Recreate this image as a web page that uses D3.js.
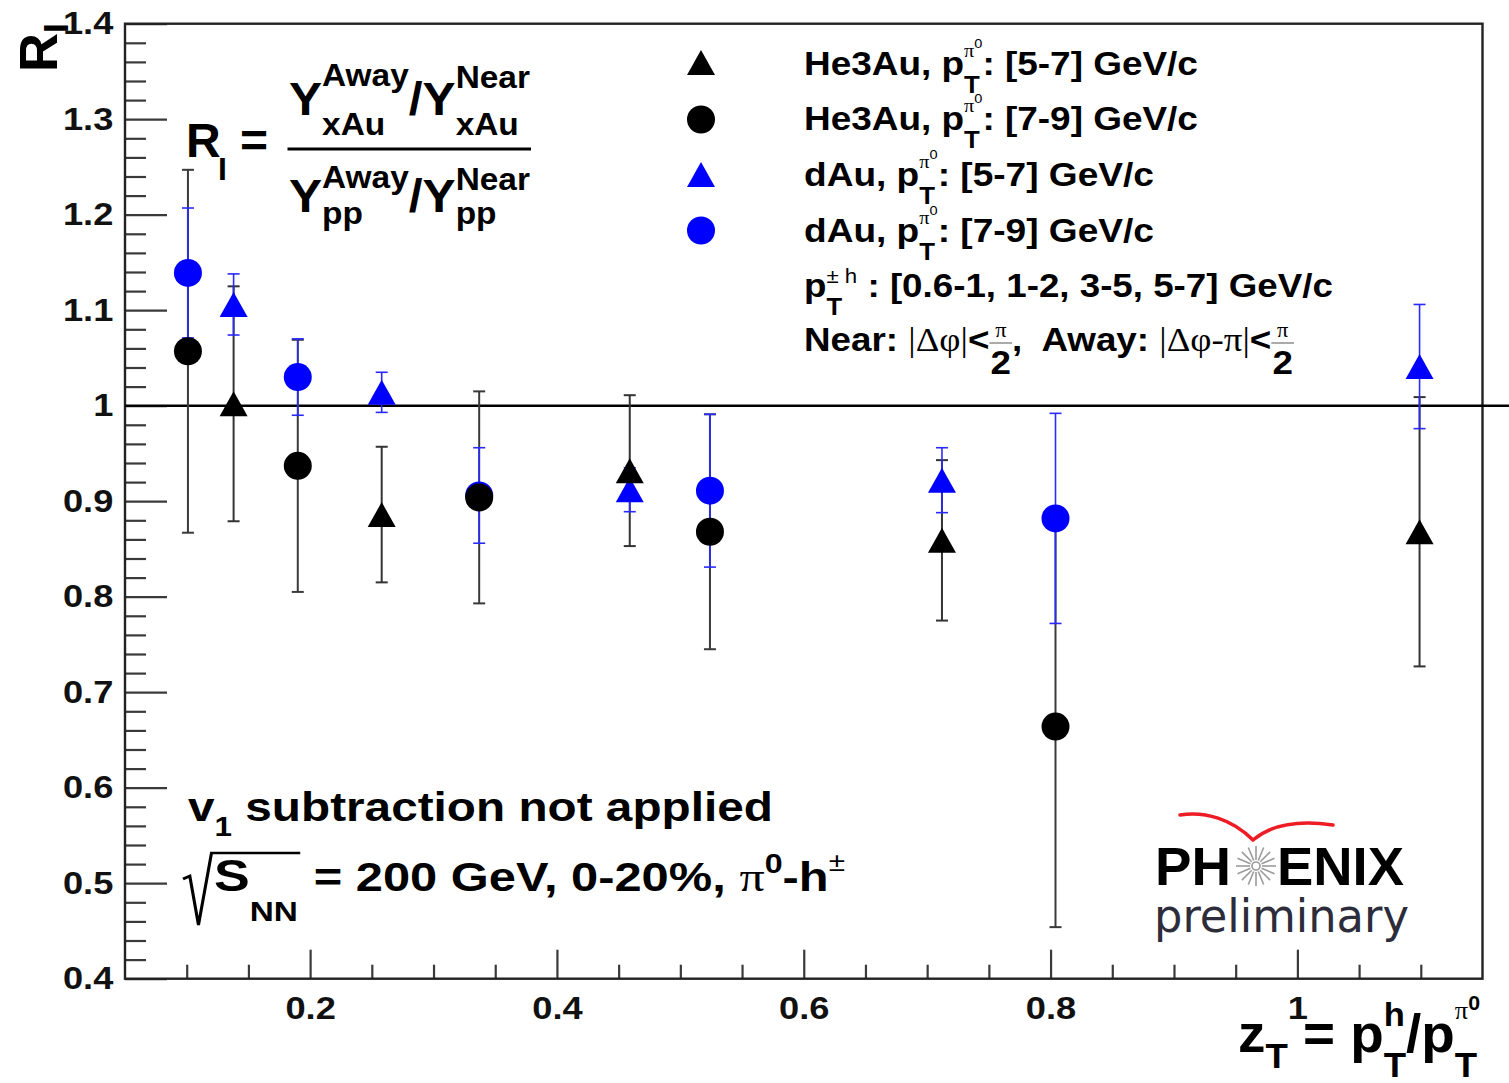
<!DOCTYPE html>
<html>
<head>
<meta charset="utf-8">
<script src="https://cdn.jsdelivr.net/npm/d3@7"></script>
<style>
  html, body { margin: 0; padding: 0; background: #fff; }
  svg { display: block; }
  text { white-space: pre; }
</style>
</head>
<body>
<svg id="chart" width="1509" height="1083"></svg>
<script>
// ---- data: R_I versus z_T ----
const zTriangles = [0.138, 0.258, 0.459, 0.712, 1.099];   // pi0 pT 5-7 GeV/c bins
const zCircles   = [0.101, 0.190, 0.337, 0.524, 0.804];   // pi0 pT 7-9 GeV/c bins

const he3Au57    = [1.002, 0.886, 0.932, 0.859, 0.868];
const he3Au57Err = [0.123, 0.071, 0.079, 0.084, 0.141];
const he3Au79    = [1.057, 0.937, 0.904, 0.868, 0.664];
const he3Au79Err = [0.190, 0.132, 0.111, 0.123, 0.210];
const dAu57      = [1.106, 1.014, 0.912, 0.922, 1.041];
const dAu57Err   = [0.032, 0.021, 0.023, 0.034, 0.065];
const dAu79      = [1.139, 1.030, 0.906, 0.911, 0.882];
const dAu79Err   = [0.068, 0.040, 0.050, 0.080, 0.110];

const yMajorTicks  = [0.4, 0.5, 0.6, 0.7, 0.8, 0.9, 1.0, 1.1, 1.2, 1.3, 1.4];
const yTickLabels  = ["0.4", "0.5", "0.6", "0.7", "0.8", "0.9", "1", "1.1", "1.2", "1.3", "1.4"];
const xMajorTicks  = [0.2, 0.4, 0.6, 0.8, 1.0];
const xTickLabels  = ["0.2", "0.4", "0.6", "0.8", "1"];
const referenceLevel = 1.0;

// ---- series ----
const series = [
  { name: "He3Au 5-7", z: zTriangles, v: he3Au57, e: he3Au57Err, shape: "tri",    color: "#000", bar: "#333", bw: 2.0 },
  { name: "He3Au 7-9", z: zCircles,   v: he3Au79, e: he3Au79Err, shape: "circle", color: "#000", bar: "#3a3a3a", bw: 2.0 },
  { name: "dAu 5-7",   z: zTriangles, v: dAu57,   e: dAu57Err,   shape: "tri",    color: "#0000ff", bar: "#2a2aff", bw: 1.6 },
  { name: "dAu 7-9",   z: zCircles,   v: dAu79,   e: dAu79Err,   shape: "circle", color: "#0000ff", bar: "#2a2aff", bw: 1.6 }
];

const SANS  = "'Liberation Sans', Arial, Helvetica, sans-serif";
const SERIF = "'Liberation Serif', 'DejaVu Serif', serif";

const svg = d3.select("#chart");
const W = 1509, H = 1083;
const plot = { left: 125, right: 1482.5, top: 23.7, bottom: 978.7 };

const x = d3.scaleLinear().domain([0.05, 1.15]).range([plot.left, plot.right]);
const y = d3.scaleLinear().domain([0.4, 1.4]).range([plot.bottom, plot.top]);

// ---- axes (ticks drawn inward, ROOT style) ----
const yMinor = d3.range(0, 51).filter(i => i % 5 !== 0).map(i => 0.4 + i * 0.02);
const xMinor = d3.range(1, 23).filter(i => i % 4 !== 0).map(i => i * 0.05).filter(v => v > 0.06 && v < 1.14);

const tickColor = "#3a3a3a";

const gyMinor = svg.append("g").attr("transform", `translate(${plot.left},0)`)
  .call(d3.axisLeft(y).tickValues(yMinor).tickSize(-21).tickFormat(""));
const gyMajor = svg.append("g").attr("transform", `translate(${plot.left},0)`)
  .call(d3.axisLeft(y).tickValues(yMajorTicks).tickSize(-42).tickPadding(10)
        .tickFormat((d, i) => yTickLabels[i]));
const gxMinor = svg.append("g").attr("transform", `translate(0,${plot.bottom})`)
  .call(d3.axisBottom(x).tickValues(xMinor).tickSize(-14).tickFormat(""));
const gxMajor = svg.append("g").attr("transform", `translate(0,${plot.bottom})`)
  .call(d3.axisBottom(x).tickValues(xMajorTicks).tickSize(-29).tickPadding(18)
        .tickFormat((d, i) => xTickLabels[i]));

[gyMinor, gyMajor, gxMinor, gxMajor].forEach(g => {
  g.select(".domain").remove();
  g.selectAll(".tick line").attr("stroke", tickColor).attr("stroke-width", 2.2);
  g.selectAll(".tick text")
    .attr("font-family", SANS).attr("font-weight", "bold").attr("font-size", 31)
    .attr("fill", "#111");
});
gyMajor.selectAll(".tick text").attr("transform", "scale(1.17,1)");
gxMajor.selectAll(".tick text").attr("transform", "scale(1.17,1)");

// frame
svg.append("rect")
  .attr("x", plot.left).attr("y", plot.top)
  .attr("width", plot.right - plot.left).attr("height", plot.bottom - plot.top)
  .attr("fill", "none").attr("stroke", "#222").attr("stroke-width", 2.4);

// line at R_I = 1, running to the edge of the canvas
svg.append("line")
  .attr("x1", plot.left).attr("x2", W)
  .attr("y1", y(referenceLevel)).attr("y2", y(referenceLevel))
  .attr("stroke", "#000").attr("stroke-width", 2.6);

// ---- markers ----
const R = 14;
function marker(g, shape, cx, cy, color) {
  if (shape === "circle") {
    g.append("circle").attr("cx", cx).attr("cy", cy).attr("r", R).attr("fill", color);
  } else {
    g.append("path")
      .attr("d", `M${cx - R},${cy + 12.5} L${cx + R},${cy + 12.5} L${cx},${cy - 12.5} Z`)
      .attr("fill", color);
  }
}

// error bars first (black then blue), then blue markers, then black markers
const gBars = svg.append("g");
series.forEach(s => {
  s.z.forEach((z, i) => {
    const cx = x(z), y1 = y(s.v[i] + s.e[i]), y0 = y(s.v[i] - s.e[i]);
    const g = gBars.append("g").attr("stroke", s.bar).attr("stroke-width", s.bw);
    g.append("line").attr("x1", cx).attr("x2", cx).attr("y1", y1).attr("y2", y0);
    g.append("line").attr("x1", cx - 6).attr("x2", cx + 6).attr("y1", y1).attr("y2", y1);
    g.append("line").attr("x1", cx - 6).attr("x2", cx + 6).attr("y1", y0).attr("y2", y0);
  });
});
const gMarks = svg.append("g");
[series[2], series[3], series[0], series[1]].forEach(s => {
  s.z.forEach((z, i) => marker(gMarks, s.shape, x(z), y(s.v[i]), s.color));
});

// ---- rich text layout (sub/superscripts, stacked indices, fractions, roots) ----
function layoutRow(g, items, x0, base) {
  let cx = x0;
  for (const it of items) {
    if (it.gap !== undefined) { cx += it.gap; continue; }
    if (it.stack) {
      let w = 0;
      it.stack.forEach(row => { w = Math.max(w, layoutRow(g, row, cx, base) - cx); });
      cx += w; continue;
    }
    if (it.frac) {
      const tmp = g.append("g");
      const wn = layoutRow(tmp, it.frac[0], 0, 0);
      const wd = layoutRow(tmp, it.frac[1], 0, 0);
      tmp.remove();
      const pad = it.pad || 1;
      const w = Math.max(wn, wd) + 2 * pad;
      layoutRow(g, it.frac[0], cx + (w - wn) / 2, base);
      layoutRow(g, it.frac[1], cx + (w - wd) / 2, base);
      g.append("line").attr("x1", cx).attr("x2", cx + w)
        .attr("y1", base + it.bar).attr("y2", base + it.bar)
        .attr("stroke", it.barColor || "#000").attr("stroke-width", it.barWidth || 1.5);
      cx += w; continue;
    }
    if (it.sqrt) {
      const start = cx;
      const end = layoutRow(g, it.sqrt, cx + it.rw, base);
      g.append("path")
        .attr("d", `M${start},${base + it.mid} L${start + it.rw * 0.22},${base + it.mid - 3}` +
                   ` L${start + it.rw * 0.5},${base + it.bot} L${start + it.rw * 0.92},${base + it.top}` +
                   ` L${end + 2},${base + it.top}`)
        .attr("fill", "none").attr("stroke", "#000").attr("stroke-width", 2.6)
        .attr("stroke-linejoin", "miter");
      cx = end + 2; continue;
    }
    const t = g.append("text")
      .attr("x", cx).attr("y", base + (it.dy || 0))
      .attr("xml:space", "preserve")
      .attr("font-family", it.f || SANS)
      .attr("font-size", it.s)
      .attr("font-weight", it.w || "bold")
      .attr("fill", it.fill || "#000")
      .text(it.t);
    cx += t.node().getComputedTextLength() + (it.kern || 0);
  }
  return cx;
}

// places a block with its left end at (x0, baseline) and stretches it to a given width
function richText(parent, items, opt) {
  const outer = parent.append("g").attr("transform", `translate(${opt.x},${opt.y})${opt.rotate ? ` rotate(${opt.rotate})` : ""}`);
  const inner = outer.append("g");
  const w = layoutRow(inner, items, 0, 0);
  const sx = opt.width ? opt.width / w : (opt.sx || 1);
  inner.attr("transform", `scale(${sx},${opt.sy || 1})`);
  return outer;
}

// ---- y title: R_I ----
richText(svg, [{ t: "R", s: 54 }, { t: "I", s: 35, dy: 11 }], { x: 57, y: 72, rotate: -90 });

// ---- x title: z_T = p_T^h / p_T^pi0 ----
richText(svg, [
  { t: "z", s: 54 }, { t: "T", s: 36, dy: 16 },
  { t: " = p", s: 54 },
  { stack: [[{ t: "h", s: 34, dy: -26 }], [{ t: "T", s: 36, dy: 25 }]] },
  { t: "/p", s: 54 },
  { stack: [[{ t: "π", s: 26, f: SERIF, w: "normal", dy: -33 }, { t: "0", s: 21, dy: -42 }],
            [{ t: "T", s: 36, dy: 25 }]] }
], { x: 1238, y: 1052, width: 242 });

// ---- R_I definition ----
const fg = svg.append("g");
richText(fg, [{ t: "R", s: 48 }], { x: 186, y: 157 });
richText(fg, [{ t: "I", s: 32 }], { x: 218, y: 180 });
richText(fg, [{ t: "=", s: 48 }], { x: 240, y: 157 });
fg.append("line").attr("x1", 287.5).attr("x2", 531).attr("y1", 149).attr("y2", 149)
  .attr("stroke", "#000").attr("stroke-width", 3);
richText(fg, [
  { t: "Y", s: 46 },
  { stack: [[{ t: "Away", s: 31, dy: -29 }], [{ t: "xAu", s: 31, dy: 20 }]] },
  { t: "/Y", s: 46 },
  { stack: [[{ t: "Near", s: 31, dy: -27 }], [{ t: "xAu", s: 31, dy: 20 }]] }
], { x: 289, y: 115, width: 241 });
richText(fg, [
  { t: "Y", s: 46 },
  { stack: [[{ t: "Away", s: 31, dy: -24 }], [{ t: "pp", s: 31, dy: 12 }]] },
  { t: "/Y", s: 46 },
  { stack: [[{ t: "Near", s: 31, dy: -22 }], [{ t: "pp", s: 31, dy: 12 }]] }
], { x: 289, y: 212, width: 241 });

// ---- legend ----
const legendRows = [
  { shape: "tri",    color: "#000",    sys: "He3Au", range: "[5-7]", my: 62.5, base: 75,  width: 394 },
  { shape: "circle", color: "#000",    sys: "He3Au", range: "[7-9]", my: 119.5, base: 130, width: 394 },
  { shape: "tri",    color: "#0000ff", sys: "dAu",   range: "[5-7]", my: 174.5, base: 186, width: 350 },
  { shape: "circle", color: "#0000ff", sys: "dAu",   range: "[7-9]", my: 230.5, base: 242, width: 350 }
];
const lg = svg.append("g");
legendRows.forEach(r => {
  marker(lg, r.shape, 701, r.my, r.color);
  richText(lg, [
    { t: r.sys + ", p", s: 33 },
    { stack: [[{ t: "T", s: 23, dy: 18 }],
              [{ t: "π", s: 18, f: SERIF, w: "normal", dy: -18 }, { t: "0", s: 13, w: "normal", dy: -27 }]] },
    { t: ": " + r.range + " GeV/c", s: 33 }
  ], { x: 804, y: r.base, width: r.width });
});
richText(lg, [
  { t: "p", s: 33 },
  { stack: [[{ t: "T", s: 23, dy: 18 }], [{ t: "± h", s: 20, w: "normal", dy: -14 }]] },
  { t: " : [0.6-1, 1-2, 3-5, 5-7] GeV/c", s: 33 }
], { x: 804, y: 297, width: 529 });
const half = () => ({ frac: [[{ t: "π", s: 20, f: SERIF, w: "normal", dy: -14 }],
                             [{ t: "2", s: 33, dy: 23 }]], bar: -8, barWidth: 1, barColor: "#555" });
richText(lg, [
  { t: "Near: ", s: 33 },
  { t: "|Δφ|", s: 33, f: SERIF, w: "normal" },
  { t: "<", s: 33 },
  half(),
  { t: ",  Away: ", s: 33 },
  { t: "|Δφ-π|", s: 33, f: SERIF, w: "normal" },
  { t: "<", s: 33 },
  half()
], { x: 804, y: 351, width: 490 });

// ---- conditions ----
richText(svg, [
  { t: "v", s: 41 }, { t: "1", s: 27, dy: 15 }, { t: " subtraction not applied", s: 41 }
], { x: 188, y: 821, width: 585 });
richText(svg, [
  { sqrt: [{ t: "S", s: 45 }, { t: "NN", s: 28, dy: 30 }], rw: 26, top: -38, bot: 34, mid: -12 },
  { t: " = 200 GeV, 0-20%, ", s: 41 },
  { t: "π", s: 42, f: SERIF, w: "normal" },
  { t: "0", s: 27, dy: -18 },
  { t: "-h", s: 41 },
  { t: "±", s: 25, w: "normal", dy: -20 }
], { x: 183, y: 891, width: 662 });

// ---- PHENIX preliminary tag ----
const logo = svg.append("g");
richText(logo, [{ t: "PH", s: 53 }], { x: 1155, y: 885, width: 76 });
richText(logo, [{ t: "ENIX", s: 53 }], { x: 1277, y: 885, width: 127 });
richText(logo, [{ t: "preliminary", s: 46, w: "normal", f: "'DejaVu Sans', Verdana, sans-serif", fill: "#2c2c3a" }],
         { x: 1154, y: 932, width: 255 });
const star = logo.append("g").attr("transform", "translate(1256,866)")
  .attr("stroke", "#9a9a9a").attr("stroke-width", 1.6);
d3.range(16).forEach(k => {
  const a = k * Math.PI / 8;
  star.append("line")
    .attr("x1", 6 * Math.cos(a)).attr("y1", 6 * Math.sin(a))
    .attr("x2", 20 * Math.cos(a)).attr("y2", 20 * Math.sin(a));
});
star.append("circle").attr("r", 4).attr("fill", "none");
logo.append("path")
  .attr("d", "M1180,815 C1205,811 1232,819 1253,840 C1272,824 1300,820 1333,825")
  .attr("fill", "none").attr("stroke", "#ee1c25").attr("stroke-width", 3.5)
  .attr("stroke-linecap", "round");
</script>
</body>
</html>
